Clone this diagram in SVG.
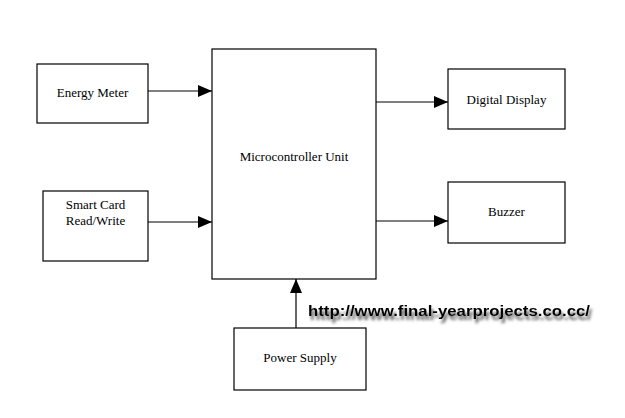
<svg xmlns="http://www.w3.org/2000/svg" width="625" height="418" viewBox="0 0 625 418">
<style>
.box{fill:#fff;stroke:#000;stroke-width:1.2}
.lbl{font-family:"Liberation Serif","Times New Roman","DejaVu Serif",serif;font-size:13px;fill:#000;text-anchor:middle}
.con{stroke:#000;stroke-width:1.2;fill:none}
.wm{font-family:"Liberation Sans",Arial,sans-serif;font-weight:bold;font-size:15px}
</style>
<defs>
<marker id="ah" markerWidth="14" markerHeight="12" refX="14" refY="6" orient="auto" markerUnits="userSpaceOnUse">
<path d="M0,0 L14,6 L0,12 Z" fill="#000"/>
</marker>
<filter id="shadow" x="-10%" y="-60%" width="120%" height="220%">
<feGaussianBlur in="SourceAlpha" stdDeviation="1.8" result="b"/>
<feOffset in="b" dx="2" dy="4" result="o"/>
<feFlood flood-color="#555" result="c"/>
<feComposite in="c" in2="o" operator="in" result="s"/>
<feMerge><feMergeNode in="s"/><feMergeNode in="SourceGraphic"/></feMerge>
</filter>
</defs>
<rect width="625" height="418" fill="#fff"/>
<g id="connectors">
<line class="con" x1="148" y1="91" x2="212" y2="91" marker-end="url(#ah)"/>
<line class="con" x1="148" y1="222" x2="212" y2="222" marker-end="url(#ah)"/>
<line class="con" x1="376" y1="102" x2="448" y2="102" marker-end="url(#ah)"/>
<line class="con" x1="376" y1="221" x2="448" y2="221" marker-end="url(#ah)"/>
<line class="con" x1="296" y1="328" x2="296" y2="279" stroke="#555" marker-end="url(#ah)"/>
</g>
<g id="energy-meter">
<rect class="box" x="37" y="64" width="111" height="59"/>
<text class="lbl" x="92.5" y="97">Energy Meter</text>
</g>
<g id="smart-card">
<rect class="box" x="43" y="191" width="105" height="70"/>
<text class="lbl" x="95.5" y="209">Smart Card</text>
<text class="lbl" x="95.5" y="225">Read/Write</text>
</g>
<g id="mcu">
<rect class="box" x="212" y="49" width="164" height="230"/>
<text class="lbl" x="294" y="161">Microcontroller Unit</text>
</g>
<g id="digital-display">
<rect class="box" x="448" y="69" width="117" height="60"/>
<text class="lbl" x="506.5" y="104">Digital Display</text>
</g>
<g id="buzzer">
<rect class="box" x="448" y="182" width="117" height="61"/>
<text class="lbl" x="506.5" y="216">Buzzer</text>
</g>
<g id="power-supply">
<rect class="box" x="234" y="328" width="132" height="62"/>
<text class="lbl" x="300" y="362">Power Supply</text>
</g>
<g id="watermark">
<text class="wm" x="308" y="316" fill="#000" filter="url(#shadow)" textLength="282" lengthAdjust="spacingAndGlyphs">http://www.final-yearprojects.co.cc/</text>
</g>
</svg>
